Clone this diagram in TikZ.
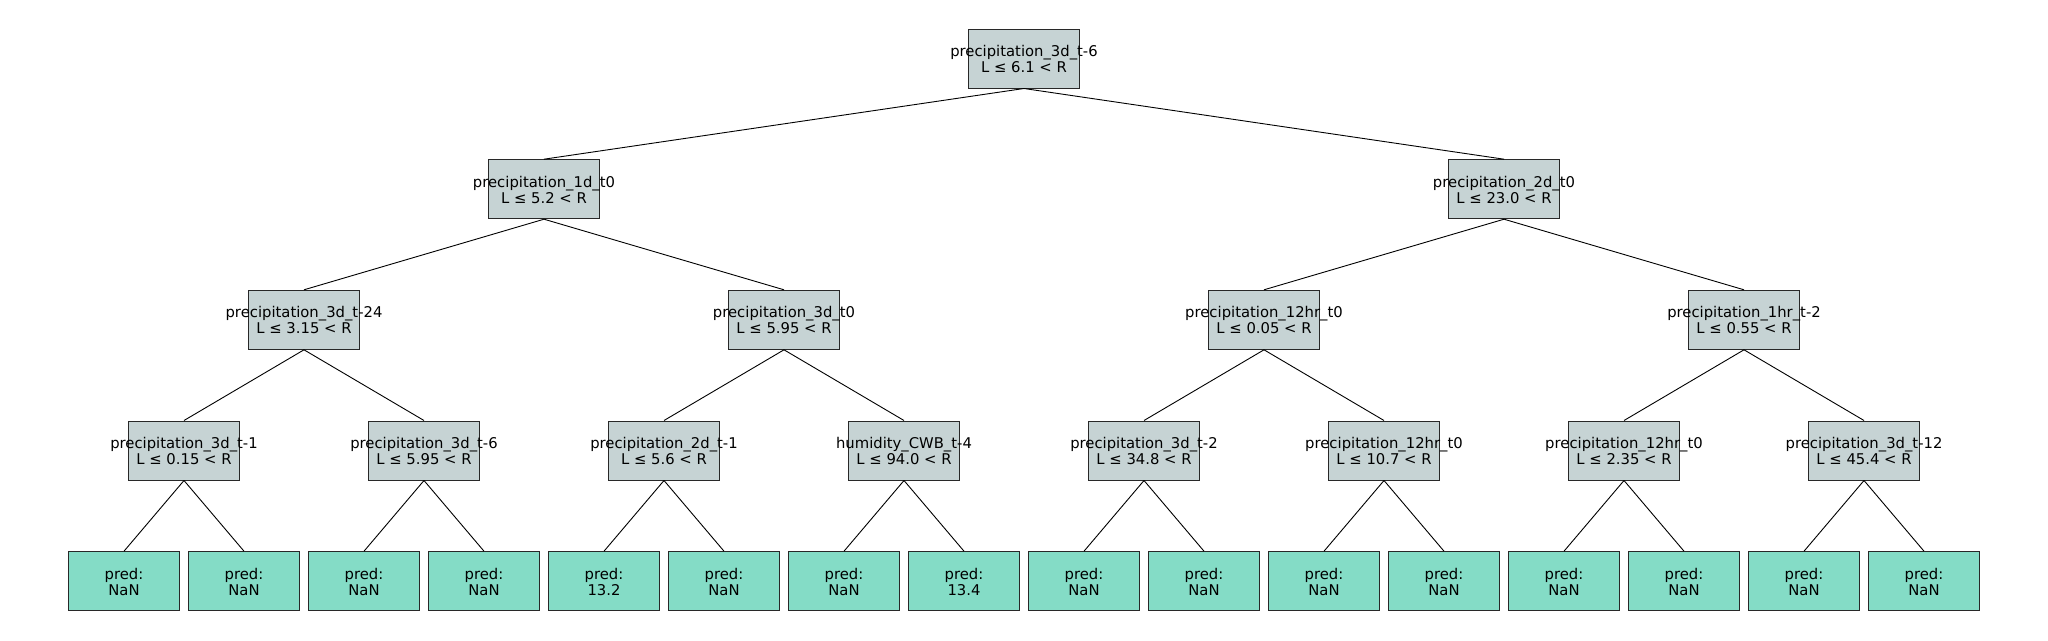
\documentclass[tikz,border=0pt]{standalone}
\usepackage{fontspec}
\setmainfont{DejaVu Sans}
\definecolor{splitfill}{RGB}{198,211,212}
\definecolor{leaffill}{RGB}{132,220,198}
\definecolor{boxline}{RGB}{40,40,40}
\newcommand{\twolines}[2]{\makebox[0pt]{\raisebox{2.2pt}[0pt][0pt]{\fontsize{14.8}{16}\selectfont\begin{tabular}[t]{@{}c@{}}#1\\#2\end{tabular}}}}
\tikzset{
  boxbase/.style={draw=boxline, line width=1pt, rectangle, inner sep=0pt, minimum width=111pt, minimum height=59pt},
  splitbox/.style={boxbase, fill=splitfill},
  leafbox/.style={boxbase, fill=leaffill},
  edge/.style={draw=black, line width=0.9pt}
}
\begin{document}
\begin{tikzpicture}[x=1pt,y=-1pt]
\useasboundingbox (0,0) rectangle (2048,640);
% level 0
\node[splitbox] (r) at (1024,58.5) {\twolines{precipitation\_3d\_t-6}{L ≤ 6.1 < R}};
% level 1
\node[splitbox] (a) at (544,189.2) {\twolines{precipitation\_1d\_t0}{L ≤ 5.2 < R}};
\node[splitbox] (b) at (1504,189.2) {\twolines{precipitation\_2d\_t0}{L ≤ 23.0 < R}};
% level 2
\node[splitbox] (aa) at (304,319.8) {\twolines{precipitation\_3d\_t-24}{L ≤ 3.15 < R}};
\node[splitbox] (ab) at (784,319.8) {\twolines{precipitation\_3d\_t0}{L ≤ 5.95 < R}};
\node[splitbox] (ba) at (1264,319.8) {\twolines{precipitation\_12hr\_t0}{L ≤ 0.05 < R}};
\node[splitbox] (bb) at (1744,319.8) {\twolines{precipitation\_1hr\_t-2}{L ≤ 0.55 < R}};
% level 3
\node[splitbox] (c1) at (184,450.5) {\twolines{precipitation\_3d\_t-1}{L ≤ 0.15 < R}};
\node[splitbox] (c2) at (424,450.5) {\twolines{precipitation\_3d\_t-6}{L ≤ 5.95 < R}};
\node[splitbox] (c3) at (664,450.5) {\twolines{precipitation\_2d\_t-1}{L ≤ 5.6 < R}};
\node[splitbox] (c4) at (904,450.5) {\twolines{humidity\_CWB\_t-4}{L ≤ 94.0 < R}};
\node[splitbox] (c5) at (1144,450.5) {\twolines{precipitation\_3d\_t-2}{L ≤ 34.8 < R}};
\node[splitbox] (c6) at (1384,450.5) {\twolines{precipitation\_12hr\_t0}{L ≤ 10.7 < R}};
\node[splitbox] (c7) at (1624,450.5) {\twolines{precipitation\_12hr\_t0}{L ≤ 2.35 < R}};
\node[splitbox] (c8) at (1864,450.5) {\twolines{precipitation\_3d\_t-12}{L ≤ 45.4 < R}};
% leaves
\node[leafbox] (l1) at (124,581.2) {\twolines{pred:}{NaN}};
\node[leafbox] (l2) at (244,581.2) {\twolines{pred:}{NaN}};
\node[leafbox] (l3) at (364,581.2) {\twolines{pred:}{NaN}};
\node[leafbox] (l4) at (484,581.2) {\twolines{pred:}{NaN}};
\node[leafbox] (l5) at (604,581.2) {\twolines{pred:}{13.2}};
\node[leafbox] (l6) at (724,581.2) {\twolines{pred:}{NaN}};
\node[leafbox] (l7) at (844,581.2) {\twolines{pred:}{NaN}};
\node[leafbox] (l8) at (964,581.2) {\twolines{pred:}{13.4}};
\node[leafbox] (l9) at (1084,581.2) {\twolines{pred:}{NaN}};
\node[leafbox] (l10) at (1204,581.2) {\twolines{pred:}{NaN}};
\node[leafbox] (l11) at (1324,581.2) {\twolines{pred:}{NaN}};
\node[leafbox] (l12) at (1444,581.2) {\twolines{pred:}{NaN}};
\node[leafbox] (l13) at (1564,581.2) {\twolines{pred:}{NaN}};
\node[leafbox] (l14) at (1684,581.2) {\twolines{pred:}{NaN}};
\node[leafbox] (l15) at (1804,581.2) {\twolines{pred:}{NaN}};
\node[leafbox] (l16) at (1924,581.2) {\twolines{pred:}{NaN}};
% edges
\foreach \p/\c in {r/a,r/b,a/aa,a/ab,b/ba,b/bb,aa/c1,aa/c2,ab/c3,ab/c4,ba/c5,ba/c6,bb/c7,bb/c8,
  c1/l1,c1/l2,c2/l3,c2/l4,c3/l5,c3/l6,c4/l7,c4/l8,c5/l9,c5/l10,c6/l11,c6/l12,c7/l13,c7/l14,c8/l15,c8/l16}
  \draw[edge] (\p.south) -- (\c.north);
\end{tikzpicture}
\end{document}
